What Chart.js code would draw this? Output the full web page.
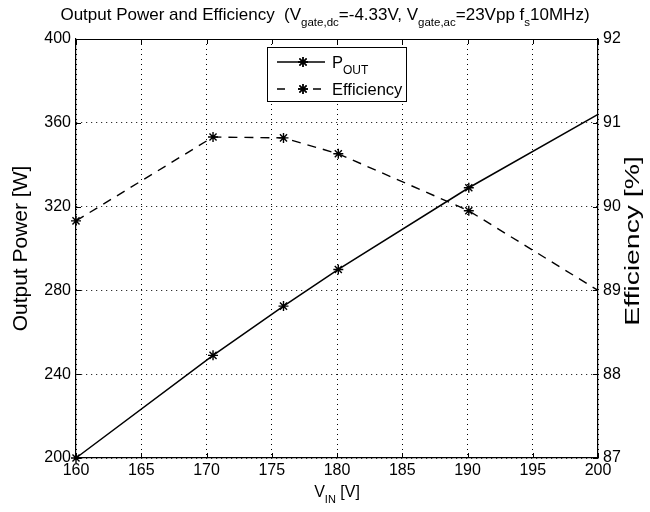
<!DOCTYPE html>
<html>
<head>
<meta charset="utf-8">
<script src="https://cdn.jsdelivr.net/npm/chart.js@4.4.1/dist/chart.umd.min.js"></script>
<style>
  html, body { margin: 0; padding: 0; background: #fff; }
  #wrap { width: 650px; height: 512px; }
</style>
</head>
<body>
<div id="wrap"><canvas id="chart" width="650" height="512"></canvas></div>
<script>
// data
const vinValues = [160, 170.5, 175.9, 180.1, 190.1, 200];
const poutValues = [200, 249, 272.5, 290, 329, 364];
const effValues = [89.83, 90.83, 90.82, 90.63, 89.95, 89.0];
// last point has no marker in the original
const markerSizes = [5, 5, 5, 5, 5, 0];

const xTicks = [160, 165, 170, 175, 180, 185, 190, 195, 200];
const powerTicks = [200, 240, 280, 320, 360, 400];
const effTicks = [87, 88, 89, 90, 91, 92];

const FONT = '"Liberation Sans", Arial, Helvetica, sans-serif';

function toPoints(xs, ys) {
    return xs.map(function(x, i) { return { x: x, y: ys[i] }; });
}

// draws a run of text pieces, some of them subscripted
function drawRich(ctx, parts, cx, y, size, subSize) {
    let total = 0;
    parts.forEach(function(p) {
        ctx.font = (p.sub ? subSize : size) + 'px ' + FONT;
        p.w = ctx.measureText(p.t).width;
        total += p.w;
    });
    let x = cx - total / 2;
    ctx.textAlign = 'left';
    ctx.textBaseline = 'alphabetic';
    parts.forEach(function(p) {
        ctx.font = (p.sub ? subSize : size) + 'px ' + FONT;
        ctx.fillText(p.t, x, p.sub ? y + size * 0.35 : y);
        x += p.w;
    });
}

const decorations = {
    id: 'decorations',
    afterDraw(chart) {
        const ctx = chart.ctx;
        const area = chart.chartArea;
        const xs = chart.scales.x;
        const yl = chart.scales.y;
        const yr = chart.scales.y1;
        const tick = 5;

        ctx.save();
        ctx.strokeStyle = '#000';
        ctx.fillStyle = '#000';
        ctx.lineWidth = 1;

        // top frame line
        ctx.beginPath();
        ctx.moveTo(area.left, area.top + 0.5);
        ctx.lineTo(area.right, area.top + 0.5);
        ctx.stroke();

        // inward ticks, MATLAB style
        ctx.beginPath();
        xTicks.forEach(function(v) {
            const px = Math.round(xs.getPixelForValue(v)) + 0.5;
            ctx.moveTo(px, area.bottom); ctx.lineTo(px, area.bottom - tick);
            ctx.moveTo(px, area.top); ctx.lineTo(px, area.top + tick);
        });
        powerTicks.forEach(function(v) {
            const py = Math.round(yl.getPixelForValue(v)) + 0.5;
            ctx.moveTo(area.left, py); ctx.lineTo(area.left + tick, py);
        });
        effTicks.forEach(function(v) {
            const py = Math.round(yr.getPixelForValue(v)) + 0.5;
            ctx.moveTo(area.right, py); ctx.lineTo(area.right - tick, py);
        });
        ctx.stroke();

        // title
        drawRich(ctx, [
            { t: 'Output Power and Efficiency  (V' },
            { t: 'gate,dc', sub: true },
            { t: '=-4.33V, V' },
            { t: 'gate,ac', sub: true },
            { t: '=23Vpp f' },
            { t: 's', sub: true },
            { t: '10MHz)' }
        ], 325, 20, 17, 11.5);

        // x axis title
        drawRich(ctx, [
            { t: 'V' },
            { t: 'IN', sub: true },
            { t: ' [V]' }
        ], (area.left + area.right) / 2, 497, 16, 11);

        // right axis title, reading upwards
        ctx.save();
        ctx.translate(633, 241);
        ctx.rotate(-Math.PI / 2);
        ctx.scale(1.35, 1);
        ctx.font = '21px ' + FONT;
        ctx.textAlign = 'center';
        ctx.textBaseline = 'middle';
        ctx.fillText('Efficiency [%]', 0, 0);
        ctx.restore();

        // legend box
        const bx = 267, by = 47, bw = 139, bh = 54;
        ctx.fillStyle = '#fff';
        ctx.fillRect(bx, by, bw, bh);
        ctx.strokeRect(bx + 0.5, by + 0.5, bw, bh);
        ctx.fillStyle = '#000';

        const rows = [
            { y: by + 15, dash: [], label: [{ t: 'P' }, { t: 'OUT', sub: true }] },
            { y: by + 42, dash: [8, 6], label: [{ t: 'Efficiency' }] }
        ];
        rows.forEach(function(r) {
            ctx.save();
            ctx.setLineDash(r.dash);
            ctx.lineWidth = 1.4;
            ctx.beginPath();
            if (r.dash.length) {
                ctx.moveTo(bx + 10, r.y); ctx.lineTo(bx + 20, r.y);
                ctx.moveTo(bx + 46, r.y); ctx.lineTo(bx + 58, r.y);
            } else {
                ctx.moveTo(bx + 10, r.y); ctx.lineTo(bx + 58, r.y);
            }
            ctx.stroke();
            ctx.restore();
            ctx.lineWidth = 1.4;
            Chart.helpers.drawPoint(ctx, { pointStyle: 'star', radius: 5, rotation: 0, borderWidth: 1.4 }, bx + 36, r.y);
            ctx.stroke();
            let w = 0;
            const size = 16.5, sub = 12;
            r.label.forEach(function(p) {
                ctx.font = (p.sub ? sub : size) + 'px ' + FONT;
                p.w = ctx.measureText(p.t).width;
                w += p.w;
            });
            drawRich(ctx, r.label, bx + 65 + w / 2, r.y + 6, size, sub);
        });

        ctx.restore();
    }
};

const ctx = document.getElementById('chart').getContext('2d');
new Chart(ctx, {
    type: 'line',
    data: {
        datasets: [{
            label: 'P_OUT',
            data: toPoints(vinValues, poutValues),
            yAxisID: 'y',
            borderColor: '#000',
            backgroundColor: '#000',
            borderWidth: 1.5,
            pointStyle: 'star',
            pointRadius: markerSizes,
            pointBorderWidth: 1.4,
            pointBorderColor: '#000',
            tension: 0,
            fill: false,
            clip: false
        }, {
            label: 'Efficiency',
            data: toPoints(vinValues, effValues),
            yAxisID: 'y1',
            borderColor: '#000',
            backgroundColor: '#000',
            borderWidth: 1.4,
            borderDash: [9, 7],
            pointStyle: 'star',
            pointRadius: markerSizes,
            pointBorderWidth: 1.4,
            pointBorderColor: '#000',
            tension: 0,
            fill: false,
            clip: false
        }]
    },
    options: {
        responsive: false,
        animation: false,
        devicePixelRatio: 1,
        layout: { padding: { top: 39, left: 0, right: 0, bottom: 0 } },
        plugins: {
            legend: { display: false },
            tooltip: { enabled: false },
            title: { display: false }
        },
        scales: {
            x: {
                type: 'linear',
                min: 160,
                max: 200,
                afterBuildTicks: function(s) { s.ticks = xTicks.map(function(v) { return { value: v }; }); },
                afterFit: function(s) { s.height = 54; },
                ticks: { color: '#000', font: { family: FONT, size: 16 }, padding: 3, maxRotation: 0 },
                grid: { color: '#000', lineWidth: 1, drawTicks: false },
                border: { color: '#000', width: 1.2, dash: [1, 4] }
            },
            y: {
                type: 'linear',
                position: 'left',
                min: 200,
                max: 400,
                afterBuildTicks: function(s) { s.ticks = powerTicks.map(function(v) { return { value: v }; }); },
                afterFit: function(s) { s.width = 76; },
                ticks: { color: '#000', font: { family: FONT, size: 16 }, padding: 5 },
                grid: { color: '#000', lineWidth: 1, drawTicks: false },
                border: { color: '#000', width: 1.2, dash: [1, 4] },
                title: {
                    display: true,
                    text: 'Output Power [W]',
                    color: '#000',
                    font: { family: FONT, size: 21 },
                    padding: { top: 9, bottom: 0 }
                }
            },
            y1: {
                type: 'linear',
                position: 'right',
                min: 87,
                max: 92,
                afterBuildTicks: function(s) { s.ticks = effTicks.map(function(v) { return { value: v }; }); },
                afterFit: function(s) { s.width = 52; },
                ticks: { color: '#000', font: { family: FONT, size: 16 }, padding: 5 },
                grid: { display: false, drawTicks: false },
                border: { color: '#000', width: 1.2 }
            }
        }
    },
    plugins: [decorations]
});
</script>
</body>
</html>
